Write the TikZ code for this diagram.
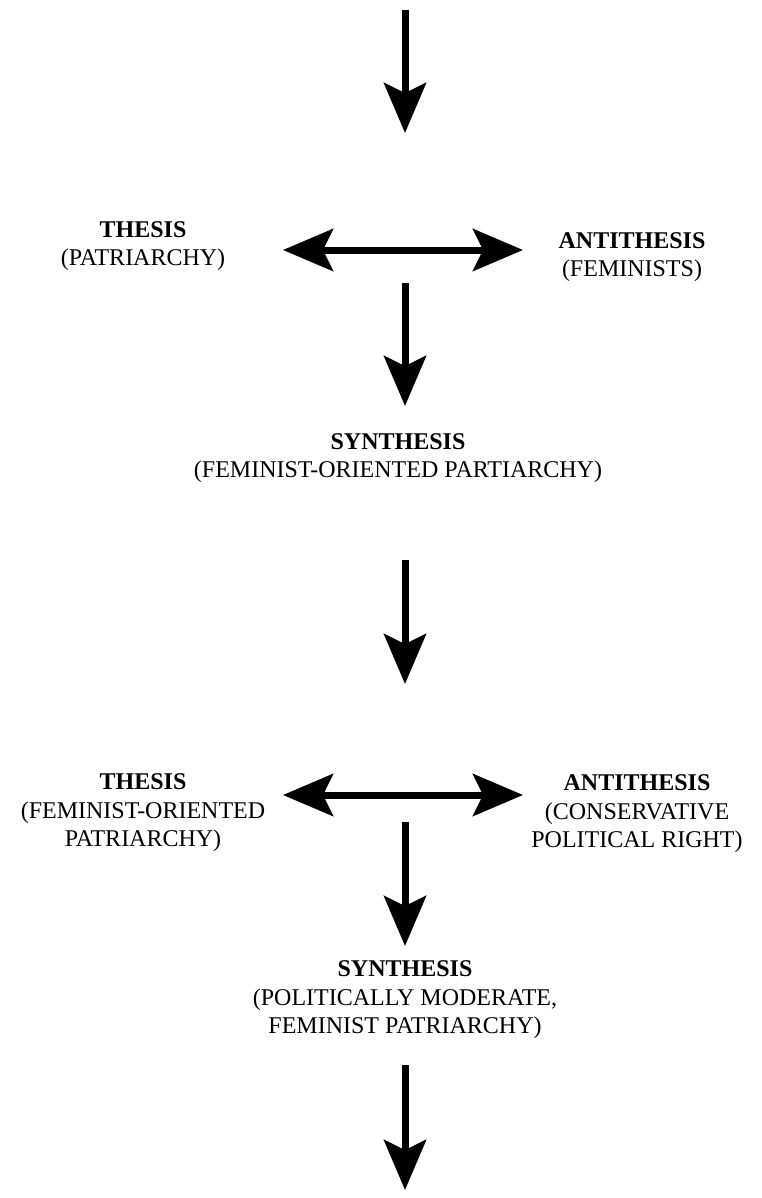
\documentclass[tikz,border=0pt]{standalone}
\usepackage{fontspec}
\setmainfont{Liberation Serif}
\usetikzlibrary{arrows.meta}
\tikzset{
  bigtip/.tip={Stealth[length=50pt,width=42pt,inset=10pt]},
  downarrow/.style={line width=7pt, -bigtip},
  bothways/.style={line width=7pt, bigtip-bigtip},
  stagetext/.style={align=center, inner sep=0pt, font=\fontsize{24}{28.5}\selectfont}
}
\begin{document}
\begin{tikzpicture}[x=1pt, y=-1pt]
\useasboundingbox (0,0) rectangle (762,1198);
% first round
\coordinate (start) at (405,10);
\coordinate (in1) at (405,133);
\node[stagetext] (thesisA) at (143,246) {\textbf{THESIS}\\(PATRIARCHY)};
\node[stagetext] (antiA) at (632,257) {\textbf{ANTITHESIS}\\(FEMINISTS)};
\coordinate (leftA) at (283,250);
\coordinate (rightA) at (523,250);
\coordinate (midA) at (405,283);
\coordinate (tipA) at (405,406);
\node[stagetext] (synthA) at (398,458) {\textbf{SYNTHESIS}\\(FEMINIST-ORIENTED PARTIARCHY)};
\draw[downarrow] (start) -- (in1);
\draw[bothways] (leftA) -- (rightA);
\draw[downarrow] (midA) -- (tipA);
% second round
\coordinate (outA) at (405,560);
\coordinate (in2) at (405,684);
\node[stagetext] (thesisB) at (143,813) {\textbf{THESIS}\\(FEMINIST-ORIENTED\\PATRIARCHY)};
\node[stagetext] (antiB) at (637,814) {\textbf{ANTITHESIS}\\(CONSERVATIVE\\POLITICAL RIGHT)};
\coordinate (leftB) at (283,795);
\coordinate (rightB) at (523,795);
\coordinate (midB) at (405,822);
\coordinate (tipB) at (405,946);
\node[stagetext] (synthB) at (405,1000) {\textbf{SYNTHESIS}\\(POLITICALLY MODERATE,\\FEMINIST PATRIARCHY)};
\coordinate (outB) at (405,1065);
\coordinate (finish) at (405,1190);
\draw[downarrow] (outA) -- (in2);
\draw[bothways] (leftB) -- (rightB);
\draw[downarrow] (midB) -- (tipB);
\draw[downarrow] (outB) -- (finish);
\end{tikzpicture}
\end{document}
